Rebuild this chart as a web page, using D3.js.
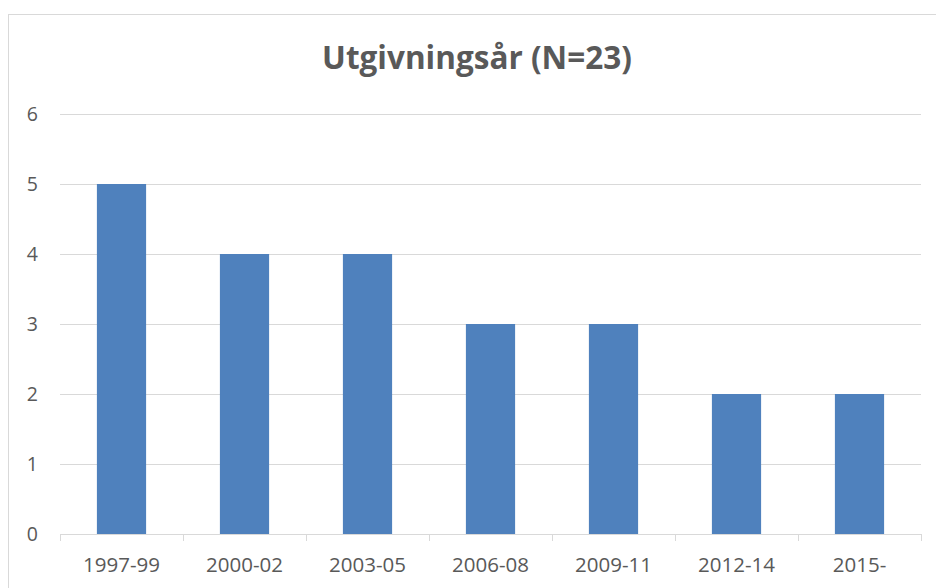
<!DOCTYPE html>
<html>
<head>
<meta charset="utf-8">
<script src="https://cdn.jsdelivr.net/npm/d3@7"></script>
<style>
  body { margin: 0; background: #fff; }
  text { font-family: "Open Sans", "Noto Sans", sans-serif; fill: #595959; }
</style>
</head>
<body>
<div id="chart"></div>
<script>
// data
const categories = ["1997-99", "2000-02", "2003-05", "2006-08", "2009-11", "2012-14", "2015-"];
const counts = [5, 4, 4, 3, 3, 2, 2];
const yTicks = [0, 1, 2, 3, 4, 5, 6];
const titleText = "Utgivningsår (N=23)";

const W = 936, H = 588;
const margin = { top: 114, right: 15, bottom: 54, left: 60 };
const width = W - margin.left - margin.right,
      height = H - margin.top - margin.bottom;

const svg = d3.select("#chart")
  .append("svg")
    .attr("width", W)
    .attr("height", H);

// chart frame
svg.append("rect")
  .attr("x", 8.5).attr("y", 14.5)
  .attr("width", W).attr("height", H)
  .attr("fill", "none")
  .attr("stroke", "#d9d9d9")
  .attr("stroke-width", 1);

svg.append("text")
  .attr("x", 477)
  .attr("y", 69)
  .attr("text-anchor", "middle")
  .style("font-size", "31.5px")
  .style("font-weight", "bold")
  .text(titleText);

const g = svg.append("g")
  .attr("transform", `translate(${margin.left},${margin.top})`);

let x = d3.scaleBand()
  .domain(categories)
  .range([0, width])
  .paddingInner(0.6)
  .paddingOuter(0.3);

let y = d3.scaleLinear()
  .domain([0, 6])
  .range([height, 0]);

// gridlines
g.selectAll(".grid")
  .data(yTicks.filter(d => d > 0))
  .enter().append("line")
  .attr("class", "grid")
  .attr("x1", 0).attr("x2", width)
  .attr("y1", d => Math.round(y(d)) + 0.5)
  .attr("y2", d => Math.round(y(d)) + 0.5)
  .attr("stroke", "#d9d9d9");

// bars
g.selectAll(".bar")
  .data(counts)
  .enter().append("rect")
  .attr("class", "bar")
  .attr("x", (d, i) => x(categories[i]))
  .attr("y", d => y(d))
  .attr("width", x.bandwidth())
  .attr("height", d => y(0) - y(d))
  .attr("fill", "#4f81bd");

// y labels
g.selectAll(".ylab")
  .data(yTicks)
  .enter().append("text")
  .attr("class", "ylab")
  .attr("x", -22)
  .attr("y", d => y(d))
  .attr("dy", "0.35em")
  .attr("text-anchor", "end")
  .style("font-size", "19.5px")
  .text(d => d);

// x axis baseline and ticks between categories
const step = x.step();
const xAxis = g.append("g").attr("transform", `translate(0,${height})`);
xAxis.append("line")
  .attr("x1", 0).attr("x2", width)
  .attr("y1", 0.5).attr("y2", 0.5)
  .attr("stroke", "#d9d9d9");
xAxis.selectAll(".tick")
  .data(d3.range(categories.length + 1))
  .enter().append("line")
  .attr("x1", i => Math.round(i * step) + 0.5)
  .attr("x2", i => Math.round(i * step) + 0.5)
  .attr("y1", 0).attr("y2", 7)
  .attr("stroke", "#d9d9d9");
xAxis.selectAll(".xlab")
  .data(categories)
  .enter().append("text")
  .attr("x", d => x(d) + x.bandwidth() / 2)
  .attr("y", 38)
  .attr("text-anchor", "middle")
  .style("font-size", "20.5px")
  .text(d => d);
</script>
</body>
</html>
